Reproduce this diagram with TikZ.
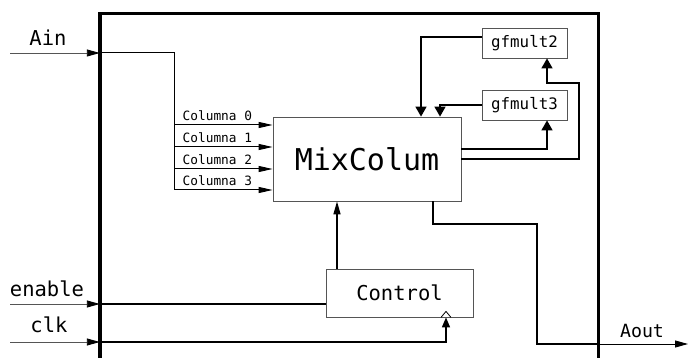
\documentclass[tikz,border=0pt]{standalone}
\usepackage{fontspec}
\setmonofont{DejaVu Sans Mono}
\usetikzlibrary{arrows.meta,positioning}
\definecolor{wiregray}{RGB}{85,85,85}

\begin{document}
\begin{tikzpicture}[x=1pt,y=-1pt,>={Triangle[length=13pt,width=7pt]},
          sz/.style={font=\ttfamily\fontsize{#1}{#1}\selectfont},
          blk/.style={draw=wiregray,line width=0.8pt,fill=white,inner sep=0pt},
          inwire/.style={draw=wiregray,line width=0.9pt,
                         -{Triangle[length=13pt,width=7pt,color=black]}},
          bus/.style={line width=1pt},
          wire/.style={line width=1.5pt},
          bigtip/.style={-{Triangle[length=10pt,width=11pt]}}]
        \useasboundingbox (0,0) rectangle (688,358);
        \node[inner sep=0pt,minimum width=498pt,minimum height=400pt] (chip) at (349,214) {};
        \draw[line width=3.4pt] (chip.south west) -- (chip.north west) -- (chip.north east)
          -- (chip.south east);
        \node[blk,minimum width=188pt,minimum height=84pt,sz=30] (mix) at (367,159) {MixColum};
        \node[blk,minimum width=85pt,minimum height=30pt,sz=15.8] (gfm2) at (524.5,43) {gfmult2};
        \node[blk,minimum width=85pt,minimum height=30pt,sz=15.8] (gfm3) at (524.5,105) {gfmult3};
        \node[blk,minimum width=147pt,minimum height=48pt,sz=20.5] (ctrl) at (399.5,293) {Control};
        \coordinate (ain) at (10,53);
        \coordinate (en) at (10,304);
        \coordinate (clk) at (10,342);
        \coordinate (aout) at (688,344);
        \node[sz=20.5] (ainlbl) at (48,38) {Ain};
        \node[sz=20.5] (enlbl) at (47,289) {enable};
        \node[sz=20.5] (clklbl) at (49,325) {clk};
        \node[sz=18.2] (aoutlbl) at (642,331) {Aout};
        \draw[inwire] (ain) -- (ain -| chip.west);
        \draw[bus] (ain -| chip.west) -| (174,190);
        \foreach \i/\y in {0/125,1/147,2/169,3/190}
          \draw[bus,-{Triangle[length=14pt,width=6pt]}] (174,\y) --
            node[above,pos=0.44,sz=12.8]{Columna \i} (mix.west |- 0,\y);
        \draw[wire,bigtip] ([yshift=6pt]gfm2.west) -| (mix.north -| 421,0);
        \draw[wire,bigtip] (gfm3.west) -| (mix.north -| 440,0);
        \draw[wire,bigtip] (mix.east |- 0,149) -| ([xshift=22.5pt]gfm3.south);
        \draw[wire,bigtip] (mix.east |- 0,159) -- (579,159) |- (547,83) --
          ([xshift=22.5pt]gfm2.south);
        \draw[wire,->] (ctrl.north -| 337,0) -- (mix.south -| 337,0);
        \draw[inwire] (en) -- (en -| chip.west);
        \draw[wire] (en -| chip.west) -- (en -| ctrl.west);
        \draw[inwire] (clk) -- (clk -| chip.west);
        \draw[wire,-{Triangle[length=10pt,width=8pt]}] (clk -| chip.west) -|
          ([xshift=46.5pt]ctrl.south);
        \draw[line width=0.8pt] ([xshift=41.5pt]ctrl.south) -- ++(5,-6) -- ++(5,6);
        \draw[wire] ([xshift=66pt]mix.south) |- (537,224) |- (aout -| chip.east);
        \draw[line width=0.9pt,->] (aout -| chip.east) -- (aout);
      \end{tikzpicture}
\end{document}
